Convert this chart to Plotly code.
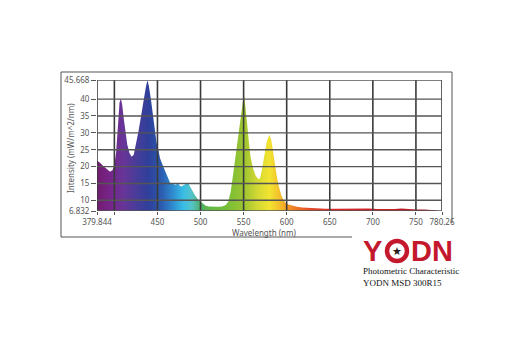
import plotly.graph_objects as go

# ---------------- data ----------------
wavelength = [379.844, 383, 387, 391, 395, 398, 400, 402, 404, 406, 407.5, 409, 411, 413, 415,
              417.5, 420, 422.5, 425, 428, 431, 434, 436.5, 438.4, 440, 442.5, 445, 447, 449,
              451, 453, 456, 459, 462, 465, 468, 471, 474, 476, 478, 480, 483, 486, 488, 491,
              494, 497, 500, 503, 506, 510, 515, 520, 525, 529, 532, 535, 538, 541, 544, 547,
              549, 550.8, 552, 554, 556, 558, 561, 564, 567, 569, 571, 574, 577, 579.9, 582,
              584, 586, 588.5, 591, 594, 597, 600, 604, 608, 612, 618, 625, 635, 645, 655, 665,
              675, 685, 695, 705, 715, 725, 733, 740, 750, 760, 770, 775]
intensity = [21.7, 21.2, 20.2, 19.2, 18.5, 19.0, 20.5, 24.0, 33.0, 39.0, 40.2, 38.5, 34.0, 30.0, 26.5,
             24.0, 22.9, 23.5, 26.5, 30.5, 35.0, 40.0, 43.5, 45.6, 44.0, 39.8, 34.5, 30.0, 27.0,
             25.0, 22.5, 20.5, 18.5, 16.5, 15.0, 14.8, 14.6, 15.0, 14.3, 14.1, 14.5, 14.8, 15.0, 14.0, 12.4,
             11.3, 10.3, 9.6, 8.8, 8.4, 8.2, 8.1, 8.1, 8.2, 8.5, 9.5, 12.5, 18.0, 24.0, 30.0, 35.5,
             39.0, 40.8, 38.5, 33.0, 27.5, 23.0, 19.5, 17.3, 16.3, 16.5, 18.8, 23.5, 27.5, 29.4, 28.0,
             24.8, 21.0, 17.2, 14.0, 11.3, 9.8, 9.0, 8.6, 8.3, 8.1, 7.9, 7.75, 7.6, 7.5, 7.5, 7.55,
             7.65, 7.7, 7.6, 7.45, 7.4, 7.45, 7.6, 7.4, 7.3, 7.3, 7.2, 7.0]

x_tickvals = [379.844, 400, 450, 500, 550, 600, 650, 700, 750, 780.26]
x_ticktext = ["379.844", "", "450", "500", "550", "600", "650", "700", "750", "780.26"]
y_tickvals = [6.832, 10, 15, 20, 25, 30, 35, 40, 45.668]
y_ticktext = ["6.832", "10", "15", "20", "25", "30", "35", "40", "45.668"]

# spectrum colours (wavelength nm, colour)
spectrum = [(379.844, "#701c6e"), (395, "#77248a"), (410, "#683597"), (425, "#4a3c99"),
            (440, "#2e409b"), (455, "#2c5db0"), (468, "#2f8cd0"), (480, "#39bde6"),
            (490, "#55c3c8"), (500, "#4caf6a"), (510, "#61b846"), (530, "#77be38"),
            (550, "#9cc431"), (565, "#cfd734"), (580, "#f2e431"), (595, "#f4b42a"),
            (605, "#ef8a25"), (625, "#e5502a"), (650, "#d82b2b"), (700, "#cf2029"),
            (780.26, "#a51b22")]

XMIN, XMAX = x_tickvals[0], x_tickvals[-1]
YMIN, YMAX = y_tickvals[0], y_tickvals[-1]

colorscale = [[(w - XMIN) / (XMAX - XMIN), c] for w, c in spectrum]

# --------------- layout helpers ---------------
W, H = 507, 352
L, R, T, B = 97, 65, 80, 141
PW, PH = W - L - R, H - T - B


def px(x):
    return (x - L) / PW


def py(y):
    return (H - B - y) / PH


fig = go.Figure()
fig.add_trace(go.Scatter(
    x=wavelength, y=intensity, mode="lines", line=dict(width=0),
    fill="tozeroy",
    fillgradient=dict(type="horizontal", colorscale=colorscale, start=XMIN, stop=XMAX),
    hoverinfo="skip", showlegend=False,
))

shapes = []
# gridlines drawn above the fill
for v in x_tickvals:
    shapes.append(dict(type="line", xref="x", yref="y", x0=v, x1=v, y0=YMIN, y1=YMAX,
                       line=dict(color="#3a3a3a", width=1.6), layer="above"))
for v in y_tickvals:
    shapes.append(dict(type="line", xref="x", yref="y", x0=XMIN, x1=XMAX, y0=v, y1=v,
                       line=dict(color="#555555", width=1.4), layer="above"))

# outer frame
frame_path = (f"M {px(61)},{py(237)} L {px(61)},{py(72)} L {px(452)},{py(72)} L {px(452)},{py(223)} "
              f"M {px(61)},{py(237)} L {px(352)},{py(237)}")
shapes.append(dict(type="path", xref="paper", yref="paper", path=frame_path,
                   line=dict(color="#555555", width=1)))

# logo ring (the "O" of YODN)
logo_red = "#c4192c"
shapes.append(dict(type="circle", xref="paper", yref="paper",
                   x0=px(387), x1=px(407), y0=py(261), y1=py(241),
                   line=dict(color=logo_red, width=4.5)))

annotations = [
    dict(text="Intensity (mW/m^2/nm)", x=px(70), y=py(148), xref="paper", yref="paper",
         xanchor="center", yanchor="middle",
         textangle=-90, showarrow=False, font=dict(size=8, color="#555555", family="Noto Sans")),
    dict(text="Wavelength (nm)", x=px(264), y=py(232), xref="paper", yref="paper",
         xanchor="center", yanchor="middle",
         showarrow=False, font=dict(size=8, color="#555555", family="Noto Sans")),
    dict(text="<b>Y</b>", x=px(361), y=py(251), xref="paper", yref="paper", xanchor="left",
         yanchor="middle", showarrow=False,
         font=dict(size=29, color=logo_red, family="Liberation Sans")),
    dict(text="<b>DN</b>", x=px(409), y=py(251), xref="paper", yref="paper", xanchor="left",
         yanchor="middle", showarrow=False,
         font=dict(size=29, color=logo_red, family="Liberation Sans")),
    dict(text="★", x=px(397), y=py(251), xref="paper", yref="paper",
         xanchor="center", yanchor="middle",
         showarrow=False, font=dict(size=11, color="#2a1a1a", family="DejaVu Sans")),
    dict(text="Photometric Characteristic<br>YODN MSD 300R15", x=px(361), y=py(264),
         xref="paper", yref="paper", xanchor="left", yanchor="top", align="left",
         showarrow=False, font=dict(size=9, color="#111111", family="Liberation Serif")),
]

fig.update_layout(
    width=W, height=H, margin=dict(l=L, r=R, t=T, b=B, pad=0),
    paper_bgcolor="white", plot_bgcolor="white",
    shapes=shapes, annotations=annotations, showlegend=False,
    xaxis=dict(range=[XMIN, XMAX], tickvals=x_tickvals, ticktext=x_ticktext,
               showgrid=False, zeroline=False, showline=False,
               ticks="outside", ticklen=3, tickcolor="#555555", tickwidth=1,
               tickfont=dict(size=8, color="#555555", family="Noto Sans")),
    yaxis=dict(range=[YMIN, YMAX], tickvals=y_tickvals, ticktext=y_ticktext,
               showgrid=False, zeroline=False, showline=False,
               ticks="outside", ticklen=5, tickcolor="#555555", tickwidth=1,
               tickfont=dict(size=8, color="#555555", family="Noto Sans")),
)

fig.write_html("out.html")
